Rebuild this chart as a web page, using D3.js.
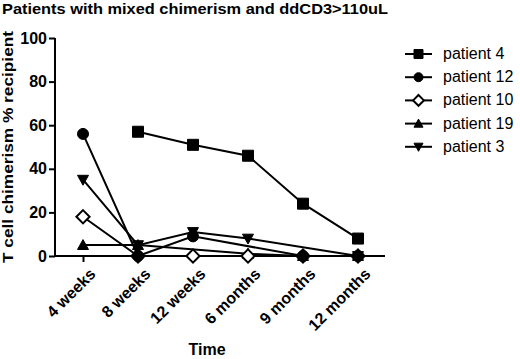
<!DOCTYPE html>
<html>
<head>
<meta charset="utf-8">
<script src="https://cdn.jsdelivr.net/npm/d3@7"></script>
<style>
  body { margin: 0; background: #fff; }
  svg { display: block; }
  text { font-family: Arial, "Liberation Sans", sans-serif; fill: #000; }
</style>
</head>
<body>
<div id="chart"></div>
<script>
// time points on the x axis
var timepoints = ["4 weeks", "8 weeks", "12 weeks", "6 months", "9 months", "12 months"];
var yTicks = [0, 20, 40, 60, 80, 100];

// % recipient T cells, null = no measurement
var patient4  = [null, 57, 51, 46, 24, 8];
var patient12 = [56, 0, 9, null, 0, 0];
var patient10 = [18, 0, 0, 0, 0, 0];
var patient19 = [5, 5, null, 1, 0, 0];
var patient3  = [35, 5, 11, 8, null, 0];

var seriesNames = ["patient 4", "patient 12", "patient 10", "patient 19", "patient 3"];
var seriesValues = [patient4, patient12, patient10, patient19, patient3];
var seriesSymbols = ["square", "circle", "diamond", "triangle", "triangleDown"];

var width = 520, height = 359;

var svg = d3.select("#chart").append("svg")
    .attr("width", width)
    .attr("height", height);

var x = d3.scalePoint()
    .domain(timepoints)
    .range([83, 358]);

var y = d3.scaleLinear()
    .domain([0, 100])
    .range([256, 38]);

// title
svg.append("text")
    .attr("x", 2)
    .attr("y", 14)
    .attr("textLength", 386)
    .attr("lengthAdjust", "spacingAndGlyphs")
    .style("font-weight", "bold")
    .style("font-size", "15px")
    .text("Patients with mixed chimerism and ddCD3>110uL");

// y axis
var yAxis = svg.append("g")
    .attr("transform", "translate(55,0)")
    .call(d3.axisLeft(y).tickValues(yTicks).tickSize(6).tickPadding(2));
yAxis.select(".domain").attr("d", "M0," + y(100) + "V" + y(0)).attr("stroke-width", 2);
yAxis.selectAll(".tick line").attr("stroke-width", 2);
yAxis.selectAll(".tick text")
    .style("font-size", "16px")
    .style("font-weight", "bold")
    .style("font-family", "Arial, 'Liberation Sans', sans-serif");

svg.append("text")
    .attr("transform", "translate(13," + ((y(0) + y(100)) / 2) + ") rotate(-90)")
    .attr("text-anchor", "middle")
    .attr("textLength", 232)
    .attr("lengthAdjust", "spacingAndGlyphs")
    .style("font-weight", "bold")
    .style("font-size", "15px")
    .text("T cell chimerism % recipient");

// x axis
var xAxis = svg.append("g")
    .attr("transform", "translate(0," + y(0) + ")")
    .call(d3.axisBottom(x).tickSize(6).tickPadding(4));
xAxis.select(".domain").attr("d", "M55,0H385").attr("stroke-width", 2);
xAxis.selectAll(".tick line").attr("stroke-width", 2);
xAxis.selectAll(".tick text")
    .attr("text-anchor", "end")
    .attr("dy", 0)
    .attr("transform", "translate(6,12) rotate(-45)")
    .style("font-size", "16px")
    .style("font-weight", "bold")
    .style("font-family", "Arial, 'Liberation Sans', sans-serif");

svg.append("text")
    .attr("x", 207)
    .attr("y", 355)
    .attr("text-anchor", "middle")
    .style("font-weight", "bold")
    .style("font-size", "16px")
    .text("Time");

function symbolPath(kind, size) {
  var s = size;
  if (kind === "square") return "M" + (-s) + "," + (-s) + "h" + (2 * s) + "v" + (2 * s) + "h" + (-2 * s) + "Z";
  if (kind === "circle") return d3.symbol(d3.symbolCircle, Math.PI * s * s)();
  if (kind === "diamond") return "M0," + (-s * 1.2) + "L" + (s * 1.2) + ",0L0," + (s * 1.2) + "L" + (-s * 1.2) + ",0Z";
  if (kind === "triangle") return "M0," + (-s) + "L" + s + "," + (s * 0.8) + "L" + (-s) + "," + (s * 0.8) + "Z";
  return "M0," + s + "L" + s + "," + (-s * 0.8) + "L" + (-s) + "," + (-s * 0.8) + "Z";
}

var line = d3.line()
    .x(function(d) { return x(d.t); })
    .y(function(d) { return y(d.v); });

var series = seriesNames.map(function(name, i) {
  var pts = timepoints.map(function(t, j) { return {t: t, v: seriesValues[i][j]}; })
      .filter(function(d) { return d.v !== null; });
  return {name: name, symbol: seriesSymbols[i], points: pts};
});

var g = svg.append("g");

g.selectAll("path.line")
    .data(series)
  .enter().append("path")
    .attr("class", "line")
    .attr("fill", "none")
    .attr("stroke", "#000")
    .attr("stroke-width", 2)
    .attr("d", function(d) { return line(d.points); });

// markers, last series first so the filled ones sit on top
series.slice().reverse().forEach(function(s) {
  g.selectAll(null)
      .data(s.points)
    .enter().append("path")
      .attr("transform", function(d) { return "translate(" + x(d.t) + "," + y(d.v) + ")"; })
      .attr("d", symbolPath(s.symbol, 5.5))
      .attr("fill", s.symbol === "diamond" ? "#fff" : "#000")
      .attr("stroke", "#000")
      .attr("stroke-width", s.symbol === "diamond" ? 2 : 1);
});

// legend
var legend = svg.append("g")
    .selectAll("g")
    .data(series)
  .enter().append("g")
    .attr("transform", function(d, i) { return "translate(405," + (54 + i * 23.2) + ")"; });

legend.append("line")
    .attr("x1", 0).attr("x2", 27)
    .attr("stroke", "#000")
    .attr("stroke-width", 2);

legend.append("path")
    .attr("transform", "translate(13.5,0)")
    .attr("d", function(d) { return symbolPath(d.symbol, 4.5); })
    .attr("fill", function(d) { return d.symbol === "diamond" ? "#fff" : "#000"; })
    .attr("stroke", "#000")
    .attr("stroke-width", function(d) { return d.symbol === "diamond" ? 2 : 1; });

legend.append("text")
    .attr("x", 38)
    .attr("y", 5)
    .style("font-size", "16px")
    .text(function(d) { return d.name; });
</script>
</body>
</html>
